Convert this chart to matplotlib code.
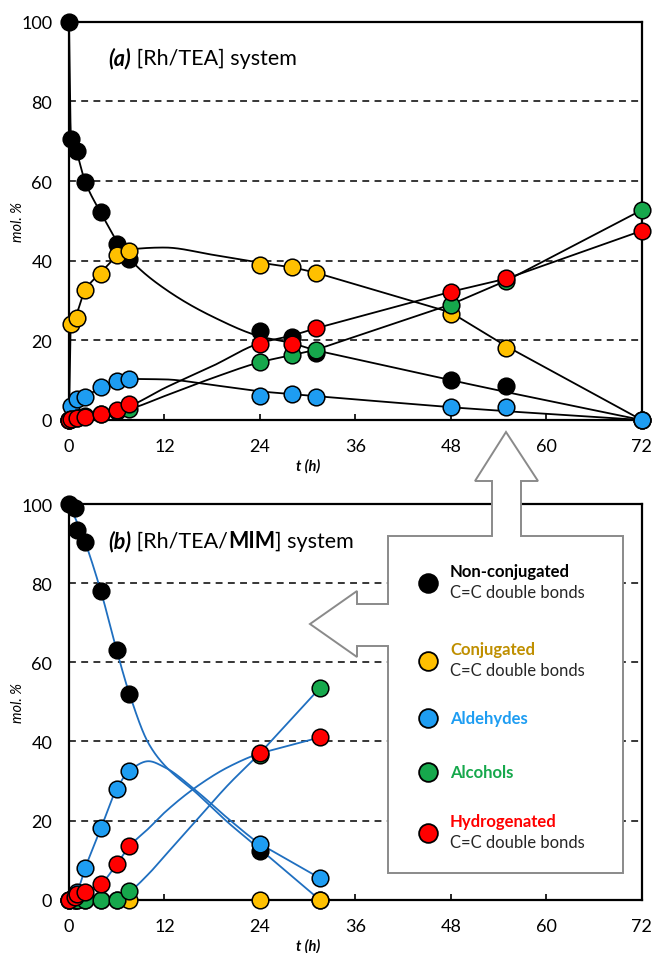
import numpy as np
import matplotlib.pyplot as plt
from matplotlib.patches import Polygon
from matplotlib.lines import Line2D

plt.rcParams['font.family'] = ['Lato', 'DejaVu Sans']

# (a) [Rh/TEA] - measured points
t_a = [0, 0.25, 1, 2, 4, 6, 7.6, 24, 28, 31, 48, 55, 72]
nonconj_a = [100, 70.5, 67.5, 59.7, 52.1, 44.2, 40.3, 22.4, 20.8, 16.8, 10.1, 8.6, 0]
conj_a = [0, 24.1, 25.5, 32.6, 36.7, 41.4, 42.5, 39.0, 38.5, 36.9, 26.6, 18.1, 0]
ald_a = [0, 3.5, 5.3, 5.9, 8.2, 9.7, 10.3, 6.1, 6.5, 5.7, 3.2, 3.2, 0]
alc_a = [0, 0.3, 0.6, 1.0, 1.5, 2.2, 2.8, 14.5, 16.3, 17.6, 28.9, 35.0, 52.7]
hyd_a = [0, 0.2, 0.5, 0.8, 1.5, 2.5, 4.0, 19.1, 19.1, 23.1, 32.2, 35.6, 47.5]

# (a) model curves
tf_a = [0, 0.25, 1, 2, 4, 6, 7.6, 12, 18, 24, 28, 31, 48, 55, 72]
fit_nonconj_a = [100, 71, 67, 60, 52, 45, 40.5, 33, 26, 21, 19.3, 17.5, 10, 7, 0]
fit_conj_a = [0, 24.5, 27, 32.5, 37, 41, 42.8, 43.3, 41.5, 39.5, 38.3, 37, 27, 18.5, 0]
fit_ald_a = [0, 3.5, 5, 6, 8, 9.6, 10.3, 10.2, 8.8, 7.2, 6.5, 6, 3.2, 2.2, 0]
fit_alc_a = [0, 0.3, 0.6, 1, 1.6, 2.2, 2.8, 6, 10.5, 14.5, 16.3, 17.6, 29, 35, 52.7]
fit_hyd_a = [0, 0.3, 0.6, 1, 1.6, 2.5, 3.5, 8, 13.5, 19.3, 21.2, 23, 32.2, 35.5, 47.5]

# (b) [Rh/TEA/MIM] - measured points
t_b = [0, 0.7, 1, 2, 4, 6, 7.6, 24, 31.5]
nonconj_b = [100, 98.9, 93.5, 90.5, 77.9, 63.1, 52.0, 12.4, 0]
conj_b = [0, 0, 0, 0, 0, 0, 0, 0, 0]
ald_b = [0, 1.0, 1.9, 7.9, 18.0, 28.1, 32.6, 14.1, 5.5]
alc_b = [0, 0, 0, 0, 0, 0, 2.1, 36.5, 53.4]
hyd_b = [0, 0.8, 1.5, 1.9, 4.0, 9.0, 13.5, 37.1, 41.0]

# (b) model curves
tf_b = [0, 1, 2, 4, 6, 7.6, 10, 12, 16, 20, 24, 31.5]
fit_nonconj_b = [100, 95.5, 90.5, 78, 63, 52, 39.5, 34, 27, 19.5, 12.8, 0]
fit_conj_b = [0, 0, 0, 0, 0, 0, 0, 0, 0, 0, 0, 0]
fit_ald_b = [0, 2, 7.8, 18, 28, 32.6, 35, 33.5, 27.5, 20.5, 14.1, 5.5]
fit_alc_b = [0, 0, 0, 0, 0.5, 2.1, 6.5, 11, 20, 29, 37, 53.4]
fit_hyd_b = [0, 1, 2, 4, 9, 13.5, 18, 22, 28.5, 33.5, 37, 41]

names = ['Non-conjugated', 'Conjugated', 'Aldehydes', 'Alcohols', 'Hydrogenated']
colors = ['#000000', '#FFC000', '#1E9DF2', '#16A84C', '#FF0000']
text_colors = ['#000000', '#BF8F00', '#1E9DF2', '#16A84C', '#FF0000']
sublines = ['C=C double bonds', 'C=C double bonds', '', '', 'C=C double bonds']


def smooth(x, y, n=40, straight=7):
    # monotone cubic (Fritsch-Carlson); long gaps are drawn straight
    x = np.asarray(x, float)
    y = np.asarray(y, float)
    h = np.diff(x)
    d = np.diff(y) / h
    m = np.zeros_like(y)
    m[0], m[-1] = d[0], d[-1]
    for i in range(1, len(x) - 1):
        if d[i - 1] * d[i] > 0:
            w1 = 2 * h[i] + h[i - 1]
            w2 = h[i] + 2 * h[i - 1]
            m[i] = (w1 + w2) / (w1 / d[i - 1] + w2 / d[i])
    xs, ys = [x[0]], [y[0]]
    s = np.linspace(0, 1, n)[1:]
    for i in range(len(x) - 1):
        xs.extend(x[i] + s * h[i])
        if h[i] >= straight:
            ys.extend(y[i] + s * (y[i + 1] - y[i]))
            continue
        h00 = 2 * s ** 3 - 3 * s ** 2 + 1
        h10 = s ** 3 - 2 * s ** 2 + s
        h01 = -2 * s ** 3 + 3 * s ** 2
        h11 = s ** 3 - s ** 2
        ys.extend(h00 * y[i] + h10 * h[i] * m[i] + h01 * y[i + 1] + h11 * h[i] * m[i + 1])
    return xs, ys


W, H = 654, 954
fig = plt.figure(figsize=(W / 100, H / 100), dpi=100)
ax_a = fig.add_axes([69 / W, 1 - 421 / H, 572.7 / W, 398.3 / H])
ax_b = fig.add_axes([69 / W, 1 - 900.7 / H, 572.7 / W, 395.7 / H])

panels = [
    (ax_a, t_a, [nonconj_a, conj_a, ald_a, alc_a, hyd_a],
     tf_a, [fit_nonconj_a, fit_conj_a, fit_ald_a, fit_alc_a, fit_hyd_a], 'black'),
    (ax_b, t_b, [nonconj_b, conj_b, ald_b, alc_b, hyd_b],
     tf_b, [fit_nonconj_b, fit_conj_b, fit_ald_b, fit_alc_b, fit_hyd_b], '#1F6FC0'),
]

for ax, t, series, tf, fits, lc in panels:
    for fy in fits:
        sx, sy = smooth(tf, fy)
        ax.plot(sx, sy, color=lc, lw=1.3, zorder=2, clip_on=False)
    for k, (vals, c) in enumerate(zip(series, colors)):
        ax.plot(t, vals, 'o', ms=12, mfc=c, mec='black', mew=1.1,
                zorder=3 + k, clip_on=False)
    ax.set_xlim(0, 72)
    ax.set_ylim(0, 100)
    ax.set_xticks(range(0, 73, 12))
    ax.set_yticks(range(0, 101, 20))
    ax.yaxis.grid(True, color='black', linestyle=(0, (4.5, 3.5)), lw=1.1)
    ax.set_axisbelow(True)
    ax.tick_params(axis='x', direction='in', length=4, width=1.2,
                   labelsize=13, pad=13)
    ax.tick_params(axis='y', length=0, labelsize=13, pad=12)
    for sp in ax.spines.values():
        sp.set_linewidth(1.6)
    ax.set_ylabel('mol. %', fontsize=10.5, style='italic')
    ax.yaxis.set_label_coords(-0.077, 0.5)
    ax.set_xlabel('t (h)', fontsize=10.5, style='italic', fontweight='bold')
    ax.xaxis.set_label_coords(0.417, -0.097)

# panel titles
ta = ax_a.text(0.068, 0.883, '(a)', transform=ax_a.transAxes, fontsize=15.5,
               fontweight='bold', style='italic', va='bottom')
ax_a.annotate(' [Rh/TEA] system', xy=(1, 0), xycoords=ta, fontsize=15.5,
              va='bottom')

tb = ax_b.text(0.068, 0.881, '(b)', transform=ax_b.transAxes, fontsize=15.5,
               fontweight='bold', style='italic', va='bottom')
tb2 = ax_b.annotate(' [Rh/TEA/', xy=(1, 0), xycoords=tb, fontsize=15.5,
                    va='bottom')
tb3 = ax_b.annotate('MIM', xy=(1, 0), xycoords=tb2, fontsize=15.5,
                    fontweight='bold', va='bottom')
ax_b.annotate('] system', xy=(1, 0), xycoords=tb3, fontsize=15.5, va='bottom')

# callout box with arrows (pixel outline)
outline = [(388, 537), (492, 537), (492, 482), (475, 482), (506, 433),
           (538, 482), (521, 482), (521, 537), (623, 537), (623, 874),
           (388, 874), (388, 647), (357, 647), (357, 658), (310, 625),
           (357, 592), (357, 605), (388, 605)]
poly = Polygon([(x / W, 1 - y / H) for x, y in outline], closed=True,
               transform=fig.transFigure, facecolor='white',
               edgecolor='#8a8a8a', lw=1.4, zorder=10)
fig.add_artist(poly)

# legend entries inside callout
marker_y = [584, 662, 719, 773, 834]
for name, c, tc, sub, my in zip(names, colors, text_colors, sublines, marker_y):
    fig.add_artist(Line2D([428 / W], [1 - my / H], marker='o', ms=13.5,
                          mfc=c, mec='black', mew=1.3, ls='none',
                          transform=fig.transFigure, zorder=11))
    if sub:
        fig.text(450 / W, 1 - (my - 12) / H, name, color=tc, fontsize=12,
                 fontweight='bold', va='center', zorder=11)
        fig.text(450 / W, 1 - (my + 9) / H, sub, color='#262626',
                 fontsize=12, va='center', zorder=11)
    else:
        fig.text(450 / W, 1 - my / H, name, color=tc, fontsize=12,
                 fontweight='bold', va='center', zorder=11)

fig.savefig('out.png', dpi=100)
